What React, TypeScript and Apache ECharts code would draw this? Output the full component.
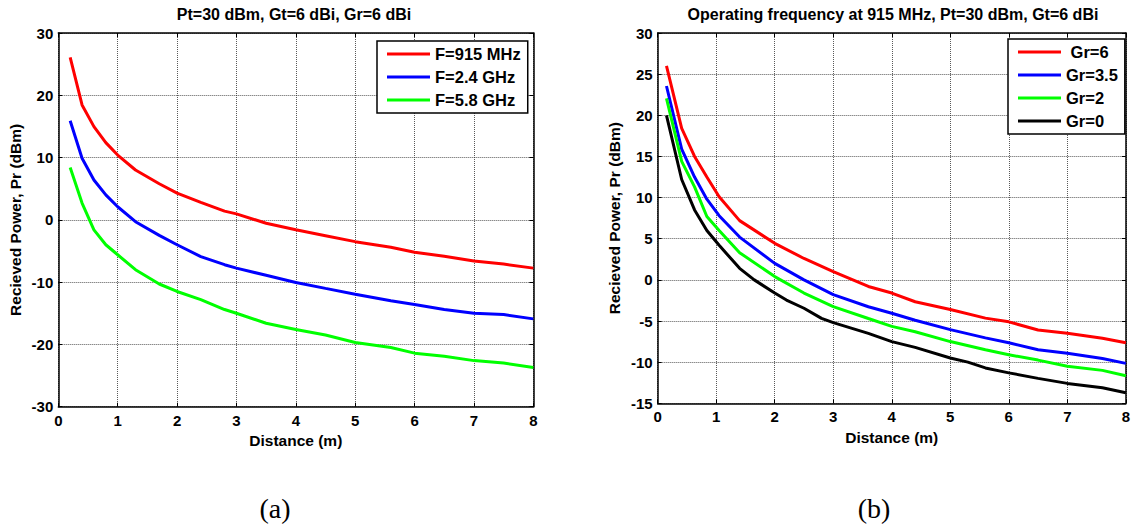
import React, { useEffect, useRef } from "react";
import * as echarts from "echarts";

// ---------- Data: panel (a) ----------
const distA = [0.2, 0.4, 0.6, 0.8, 1.0, 1.3, 1.7, 2.0, 2.4, 2.8, 3.0, 3.5, 4.0, 4.5, 5.0, 5.6, 6.0, 6.5, 7.0, 7.5, 8.0];
const f915 = [26.1, 18.45, 14.97, 12.4, 10.4, 8.0, 5.8, 4.3, 2.8, 1.4, 0.96, -0.55, -1.6, -2.55, -3.5, -4.4, -5.2, -5.85, -6.6, -7.1, -7.75];
const f24 = [15.9, 9.9, 6.4, 4.0, 2.1, -0.3, -2.5, -4.0, -5.9, -7.2, -7.75, -8.9, -10.05, -11.0, -11.93, -13.0, -13.6, -14.4, -15.0, -15.2, -15.9];
const f58 = [8.4, 2.7, -1.6, -4.0, -5.6, -8.0, -10.3, -11.5, -12.8, -14.4, -15.0, -16.6, -17.6, -18.5, -19.7, -20.5, -21.4, -21.9, -22.6, -23.0, -23.7];

// ---------- Data: panel (b) ----------
const distB = [0.15, 0.41, 0.63, 0.84, 1.05, 1.4, 2.0, 2.5, 3.0, 3.6, 4.0, 4.4, 5.0, 5.6, 6.0, 6.5, 7.0, 7.6, 8.0];
const gr6 = [26.0, 18.4, 15.0, 12.5, 10.1, 7.2, 4.44, 2.6, 1.0, -0.8, -1.6, -2.66, -3.6, -4.65, -5.1, -6.1, -6.5, -7.1, -7.64];
const gr35 = [23.56, 15.9, 12.5, 9.8, 7.8, 5.2, 2.0, 0.0, -1.8, -3.27, -4.05, -4.9, -6.05, -7.05, -7.64, -8.5, -8.93, -9.55, -10.15];
const gr2 = [22.06, 14.4, 11.3, 7.7, 6.0, 3.3, 0.4, -1.6, -3.25, -4.7, -5.65, -6.3, -7.5, -8.5, -9.1, -9.75, -10.5, -11.0, -11.66];
const distB0 = [0.15, 0.41, 0.63, 0.84, 1.05, 1.4, 1.65, 2.0, 2.2, 2.5, 2.8, 3.0, 3.6, 4.0, 4.4, 5.0, 5.3, 5.6, 6.0, 6.5, 7.0, 7.6, 8.0];
const gr0 = [20.0, 12.2, 8.5, 6.0, 4.2, 1.4, 0.0, -1.6, -2.45, -3.45, -4.68, -5.2, -6.5, -7.5, -8.2, -9.5, -10.0, -10.7, -11.3, -11.97, -12.58, -13.1, -13.72];

// ---------- Texts ----------
const titleA = "Pt=30 dBm, Gt=6 dBi, Gr=6 dBi";
const titleB = "Operating frequency at 915 MHz, Pt=30 dBm, Gt=6 dBi";
const xName = "Distance (m)";
const yName = "Recieved Power, Pr (dBm)";
const seriesNamesA = ["F=915 MHz", "F=2.4 GHz", "F=5.8 GHz"];
const seriesNamesB = [" Gr=6", "Gr=3.5", "Gr=2", "Gr=0"];
const panelLabels = ["(a)", "(b)"];

const FONT = "Arial, 'Liberation Sans', Helvetica, sans-serif";
const SERIF = "'Liberation Serif', 'Times New Roman', serif";

const zip = (xs: number[], ys: number[]) => xs.map((x, i) => [x, ys[i]]);

const gridLine = { show: true, lineStyle: { color: "#222", type: [1, 1], width: 1, opacity: 0.75 } };

function xAxes(gridIndex: number, nameGap: number) {
  const common = {
    type: "value" as const,
    gridIndex,
    min: 0,
    max: 8,
    interval: 1,
    axisLine: { show: true, onZero: false, lineStyle: { color: "#000", width: 1.5 } },
    axisTick: { show: true, inside: true, length: 4, lineStyle: { color: "#000" } },
  };
  return [
    {
      ...common,
      position: "bottom",
      axisLabel: { color: "#000", fontWeight: "bold", fontSize: 15, fontFamily: FONT, margin: 6 },
      splitLine: gridLine,
      name: xName,
      nameLocation: "middle",
      nameGap,
      nameTextStyle: { color: "#000", fontWeight: "bold", fontSize: 15.5, fontFamily: FONT },
    },
    {
      ...common,
      position: "top",
      axisLabel: { show: false },
      splitLine: { show: false },
    },
  ];
}

function yAxes(gridIndex: number, min: number, max: number, interval: number) {
  const common = {
    type: "value" as const,
    gridIndex,
    min,
    max,
    interval,
    axisLine: { show: true, onZero: false, lineStyle: { color: "#000", width: 1.5 } },
    axisTick: { show: true, inside: true, length: 4, lineStyle: { color: "#000" } },
  };
  return [
    {
      ...common,
      position: "left",
      axisLabel: { color: "#000", fontWeight: "bold", fontSize: 15, fontFamily: FONT, margin: 5 },
      splitLine: gridLine,
      name: yName,
      nameLocation: "middle",
      nameGap: 35,
      nameTextStyle: { color: "#000", fontWeight: "bold", fontSize: 15.5, fontFamily: FONT },
    },
    {
      ...common,
      position: "right",
      axisLabel: { show: false },
      splitLine: { show: false },
    },
  ];
}

function line(name: string, xi: number, yi: number, data: number[][], color: string) {
  return {
    type: "line" as const,
    name,
    xAxisIndex: xi,
    yAxisIndex: yi,
    data,
    symbol: "none",
    showSymbol: false,
    lineStyle: { width: 3, color },
    itemStyle: { color },
    z: 3,
  };
}

function legendBox(names: string[], left: number, top: number) {
  return {
    data: names,
    left,
    top,
    orient: "vertical" as const,
    icon: "rect",
    itemWidth: 43,
    itemHeight: 3,
    itemGap: 5,
    padding: [4, 7, 4, 10],
    borderColor: "#000",
    borderWidth: 1.5,
    backgroundColor: "#fff",
    textStyle: { color: "#000", fontWeight: "bold", fontSize: 16.5, fontFamily: FONT, lineHeight: 18 },
    selectedMode: false,
  };
}

export default function App() {
  const ref = useRef<HTMLDivElement>(null);
  useEffect(() => {
    const chart = echarts.init(ref.current!, null, { renderer: "svg" });
    chart.setOption({
      animation: false,
      backgroundColor: "#fff",
      title: [
        {
          text: titleA,
          left: 294,
          top: 6,
          textAlign: "center",
          padding: 0,
          textStyle: { color: "#000", fontWeight: "bold", fontSize: 16, fontFamily: FONT },
        },
        {
          text: titleB,
          left: 893,
          top: 6,
          textAlign: "center",
          padding: 0,
          textStyle: { color: "#000", fontWeight: "bold", fontSize: 16, fontFamily: FONT },
        },
      ],
      grid: [
        { left: 58.3, top: 33, width: 475, height: 373.7, containLabel: false },
        { left: 657.7, top: 33, width: 470.6, height: 370.3, containLabel: false },
      ],
      xAxis: [...xAxes(0, 24), ...xAxes(1, 25)],
      yAxis: [...yAxes(0, -30, 30, 10), ...yAxes(1, -15, 30, 5)],
      legend: [legendBox(seriesNamesA, 377, 41), legendBox(seriesNamesB, 1008, 39)],
      series: [
        line(seriesNamesA[0], 0, 0, zip(distA, f915), "#ff0000"),
        line(seriesNamesA[1], 0, 0, zip(distA, f24), "#0000ff"),
        line(seriesNamesA[2], 0, 0, zip(distA, f58), "#00ff00"),
        line(seriesNamesB[0], 2, 2, zip(distB, gr6), "#ff0000"),
        line(seriesNamesB[1], 2, 2, zip(distB, gr35), "#0000ff"),
        line(seriesNamesB[2], 2, 2, zip(distB, gr2), "#00ff00"),
        line(seriesNamesB[3], 2, 2, zip(distB0, gr0), "#000000"),
      ],
      graphic: [
        {
          type: "text",
          x: 275,
          y: 508,
          style: {
            text: panelLabels[0],
            fill: "#000",
            fontSize: 28,
            fontFamily: SERIF,
            textAlign: "center",
            textVerticalAlign: "middle",
          },
        },
        {
          type: "text",
          x: 874,
          y: 508,
          style: {
            text: panelLabels[1],
            fill: "#000",
            fontSize: 28,
            fontFamily: SERIF,
            textAlign: "center",
            textVerticalAlign: "middle",
          },
        },
      ],
    });
    return () => chart.dispose();
  }, []);
  return (
    <div
      ref={ref}
      style={{ position: "absolute", left: 0, top: 0, width: 1133, height: 525, background: "#fff" }}
    />
  );
}
